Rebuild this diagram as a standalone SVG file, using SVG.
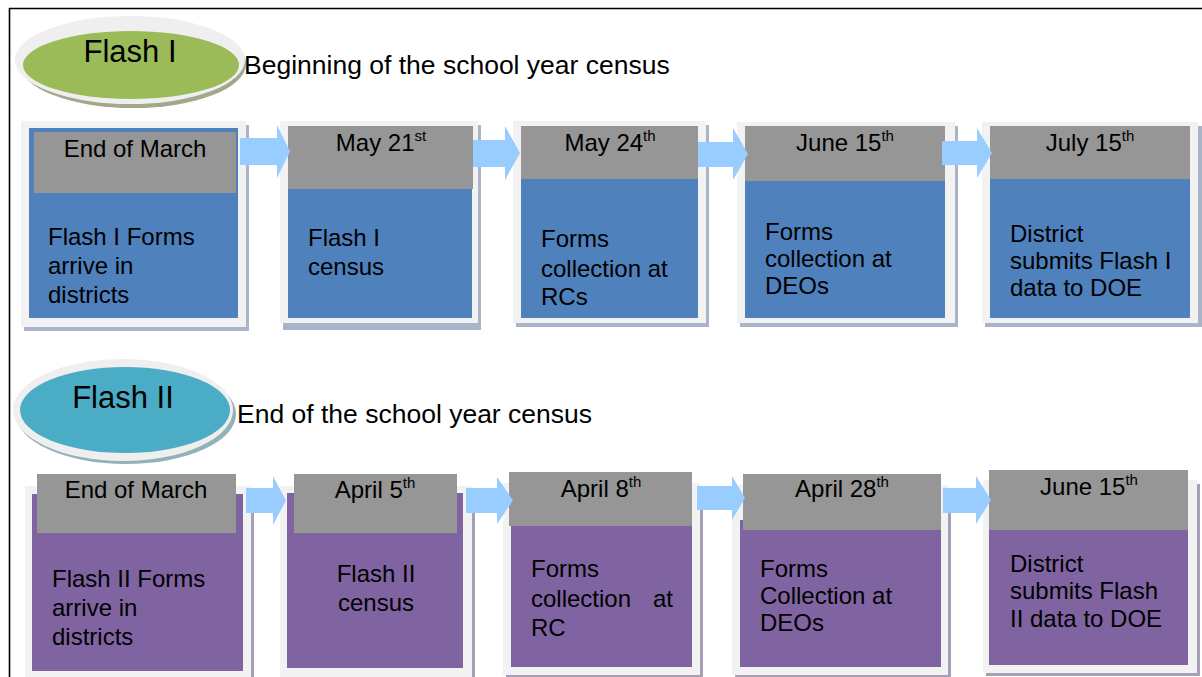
<svg xmlns="http://www.w3.org/2000/svg" width="1202" height="677" viewBox="0 0 1202 677">
<style>
text{font-family:"Liberation Sans",Arial,sans-serif;fill:#000}
.t{font-size:24px}
.h{font-size:24px;text-anchor:middle}
.sup{font-size:15px}
.big{font-size:31px;text-anchor:middle}
.sub{font-size:26.5px}
.frame{fill:#f2f2f2}
.sh1{fill:#a9b4c8}
.sh2{fill:#a79fb8}
.blue{fill:#4f81bd}
.purp{fill:#8064a2}
.hdr{fill:#969696}
.arr{fill:#99ccff}
</style>
<rect width="1202" height="677" fill="#fff"/>
<path d="M9 8.5H1202M9.5 8V677" stroke="#000" stroke-width="1.6" fill="none"/>

<g id="flash1">
<ellipse cx="133" cy="64" rx="113" ry="44" fill="#a3a78c"/>
<ellipse cx="130" cy="60" rx="115" ry="44" fill="#efefef"/>
<ellipse cx="131" cy="65" rx="108" ry="34" fill="#9bbb59"/>
<text class="big" x="130" y="62">Flash I</text>
</g>
<text class="sub" x="244" y="74">Beginning of the school year census</text>

<g id="flash2">
<ellipse cx="126" cy="414" rx="110" ry="50" fill="#93b1b8"/>
<ellipse cx="123" cy="410" rx="110" ry="51" fill="#efefef"/>
<ellipse cx="125" cy="410" rx="105" ry="43" fill="#4bacc6"/>
<text class="big" x="123" y="408">Flash II</text>
</g>
<text class="sub" x="237" y="423">End of the school year census</text>

<!-- Row 1 -->
<g id="n1">
<rect class="sh1" x="24" y="125" width="225" height="206"/>
<rect class="frame" x="21" y="121" width="225" height="206"/>
<rect class="blue" x="29" y="128" width="209" height="190"/>
<rect class="hdr" x="34" y="132" width="202" height="61"/>
<text class="h" x="135" y="157">End of March</text>
<text class="t" x="48" y="245">Flash I Forms</text>
<text class="t" x="48" y="274">arrive in</text>
<text class="t" x="48" y="303">districts</text>
</g>
<g id="n2">
<rect class="sh1" x="283" y="125" width="198" height="205"/>
<rect class="frame" x="280" y="121" width="198" height="202"/>
<rect class="blue" x="288" y="126" width="184" height="192"/>
<rect class="hdr" x="288" y="126" width="185" height="63"/>
<text class="h" x="381" y="151">May 21<tspan class="sup" dy="-10">st</tspan></text>
<text class="t" x="308" y="246">Flash I</text>
<text class="t" x="308" y="275">census</text>
</g>
<g id="n3">
<rect class="sh1" x="516" y="125" width="193" height="202"/>
<rect class="frame" x="513" y="121" width="193" height="202"/>
<rect class="blue" x="521" y="126" width="177" height="192"/>
<rect class="hdr" x="521" y="126" width="177" height="53"/>
<text class="h" x="610" y="151">May 24<tspan class="sup" dy="-10">th</tspan></text>
<text class="t" x="541" y="247">Forms</text>
<text class="t" x="541" y="277">collection at</text>
<text class="t" x="541" y="305">RCs</text>
</g>
<g id="n4">
<rect class="sh1" x="740" y="126" width="218" height="201"/>
<rect class="frame" x="737" y="122" width="218" height="201"/>
<rect class="blue" x="745" y="126" width="200" height="192"/>
<rect class="hdr" x="745" y="126" width="200" height="55"/>
<text class="h" x="845" y="151">June 15<tspan class="sup" dy="-10">th</tspan></text>
<text class="t" x="765" y="240">Forms</text>
<text class="t" x="765" y="267">collection at</text>
<text class="t" x="765" y="294">DEOs</text>
</g>
<g id="n5">
<rect class="sh1" x="985" y="126" width="217" height="201"/>
<rect class="frame" x="982" y="122" width="216" height="201"/>
<rect class="blue" x="990" y="126" width="200" height="192"/>
<rect class="hdr" x="990" y="126" width="200" height="53"/>
<text class="h" x="1090" y="151">July 15<tspan class="sup" dy="-10">th</tspan></text>
<text class="t" x="1010" y="242">District</text>
<text class="t" x="1010" y="269">submits Flash I</text>
<text class="t" x="1010" y="296">data to DOE</text>
</g>

<!-- Row 2 -->
<g id="m1">
<rect class="sh2" x="28" y="490" width="226" height="190"/>
<rect class="frame" x="25" y="486" width="226" height="191"/>
<rect class="purp" x="32" y="494" width="211" height="177"/>
<rect class="hdr" x="37" y="474" width="199" height="59"/>
<text class="h" x="136" y="498">End of March</text>
<text class="t" x="52" y="587">Flash II Forms</text>
<text class="t" x="52" y="616">arrive in</text>
<text class="t" x="52" y="645">districts</text>
</g>
<g id="m2">
<rect class="sh2" x="283" y="490" width="192" height="190"/>
<rect class="frame" x="280" y="486" width="192" height="191"/>
<rect class="purp" x="287" y="493" width="176" height="175"/>
<rect class="hdr" x="294" y="474" width="163" height="59"/>
<text class="h" x="375" y="498">April 5<tspan class="sup" dy="-10">th</tspan></text>
<text class="h" x="376" y="582">Flash II</text>
<text class="h" x="376" y="611">census</text>
</g>
<g id="m3">
<rect class="sh2" x="506" y="487" width="197" height="191"/>
<rect class="frame" x="503" y="483" width="197" height="192"/>
<rect class="purp" x="511" y="520" width="181" height="147"/>
<rect class="hdr" x="509" y="472" width="183" height="54"/>
<text class="h" x="601" y="497">April 8<tspan class="sup" dy="-10">th</tspan></text>
<text class="t" x="531" y="577">Forms</text>
<text class="t" x="531" y="607">collection <tspan x="653">at</tspan></text>
<text class="t" x="531" y="636">RC</text>
</g>
<g id="m4">
<rect class="sh2" x="735" y="489" width="216" height="189"/>
<rect class="frame" x="732" y="485" width="216" height="190"/>
<rect class="purp" x="740" y="520" width="201" height="147"/>
<rect class="hdr" x="743" y="474" width="198" height="56"/>
<text class="h" x="842" y="497">April 28<tspan class="sup" dy="-10">th</tspan></text>
<text class="t" x="760" y="577">Forms</text>
<text class="t" x="760" y="604">Collection at</text>
<text class="t" x="760" y="631">DEOs</text>
</g>
<g id="m5">
<rect class="sh2" x="986" y="484" width="214" height="192"/>
<rect class="frame" x="983" y="480" width="214" height="193"/>
<rect class="purp" x="989" y="520" width="199" height="145"/>
<rect class="hdr" x="989" y="470" width="199" height="60"/>
<text class="h" x="1089" y="495">June 15<tspan class="sup" dy="-10">th</tspan></text>
<text class="t" x="1010" y="572">District</text>
<text class="t" x="1010" y="599">submits Flash</text>
<text class="t" x="1010" y="627">II data to DOE</text>
</g>

<g id="connectors">
<polygon class="arr" points="240,138 277,138 277,125 290,151.5 277,178 277,165 240,165"/>
<polygon class="arr" points="473,140 505,140 505,126 520,153 505,180 505,167 473,167"/>
<polygon class="arr" points="698,142 733,142 733,128 748,154 733,180 733,167 698,167"/>
<polygon class="arr" points="942,141 977,141 977,128 992,153 977,178 977,165 942,165"/>
<polygon class="arr" points="246,488 273,488 273,476 286,500.5 273,525 273,513 246,513"/>
<polygon class="arr" points="466,488 497,488 497,477 513,500.5 497,524 497,513 466,513"/>
<polygon class="arr" points="697,486 732,486 732,476 745,498 732,520 732,510 697,510"/>
<polygon class="arr" points="943,488 976,488 976,476 991,500 976,524 976,513 943,513"/>
</g>
</svg>
